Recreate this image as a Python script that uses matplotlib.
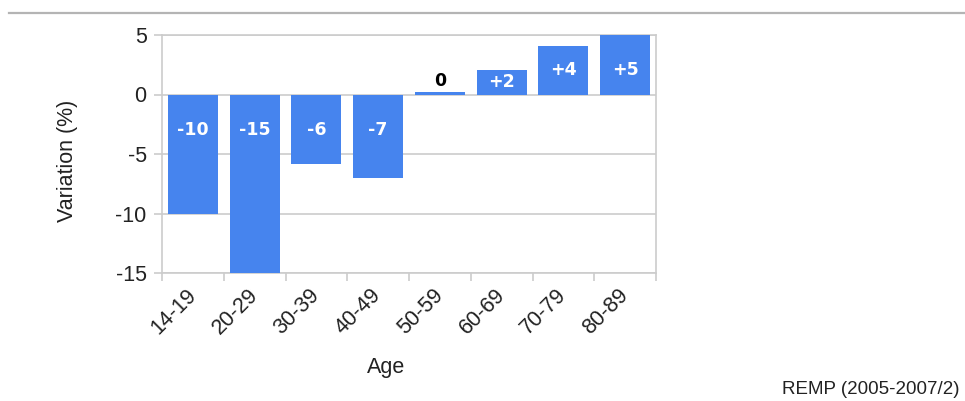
import numpy as np
import matplotlib
matplotlib.use("Agg")
import matplotlib.pyplot as plt
from matplotlib.lines import Line2D

# Age groups and variation of each group (%)
age_groups = ["14-19", "20-29", "30-39", "40-49", "50-59", "60-69", "70-79", "80-89"]
variation = [-10, -15, -5.8, -7, 0.2, 2.1, 4.1, 5]
y_ticks = [5, 0, -5, -10, -15]
source_note = "REMP (2005-2007/2)"

BAR_COLOR = "#4684ee"
GRID_COLOR = "#cccccc"
W, H = 965, 401

fig = plt.figure(figsize=(W / 100, H / 100), dpi=100)

# Thin rule across the top of the figure
fig.add_artist(Line2D([9 / W, 1.0], [1 - 13 / H, 1 - 13 / H],
                      color="#b4b4b4", linewidth=1.6))

ax = fig.add_axes([162 / W, 1 - 273 / H, (656 - 162) / W, (273 - 35) / H])
x = np.arange(len(age_groups))
ax.bar(x, variation, width=0.81, color=BAR_COLOR, zorder=3)

ax.set_xlim(-0.5, len(age_groups) - 0.5)
ax.set_ylim(min(y_ticks), max(y_ticks))
ax.set_yticks(y_ticks)
ax.set_yticklabels([str(t) for t in y_ticks])

# Category boundaries carry the tick marks, labels sit under each bar
ax.set_xticks(np.arange(-0.5, len(age_groups), 1.0))
ax.set_xticklabels([])
ax.set_xticks(x, minor=True)
ax.set_xticklabels(age_groups, minor=True, rotation=45, ha="right",
                   va="center", rotation_mode="anchor",
                   fontsize=15.5, family="Liberation Sans", color="#222222")
ax.tick_params(axis="x", which="minor", length=0, pad=14)
ax.tick_params(axis="x", which="major", length=6, color=GRID_COLOR, width=1.2)
ax.tick_params(axis="y", length=6, color=GRID_COLOR, width=1.2, pad=5,
               labelsize=15.5, labelcolor="#222222")
for lab in ax.get_yticklabels():
    lab.set_family("Liberation Sans")

ax.yaxis.grid(True, color=GRID_COLOR, linewidth=1.2, zorder=0)
ax.set_axisbelow(True)
for side in ["left", "right", "bottom", "top"]:
    ax.spines[side].set_color(GRID_COLOR)
    ax.spines[side].set_linewidth(1.2)

# Value labels on the bars
for xi, v in zip(x, variation):
    r = int(round(v))
    if r == 0:
        ax.text(xi, 1.1, "0", ha="center", va="center", fontsize=12.5,
                fontweight="bold", color="black", family="DejaVu Sans", zorder=4)
    elif v > 0:
        ax.text(xi, min(v / 2, 2.1), f"+{r}", ha="center", va="center",
                fontsize=12.5, fontweight="bold", color="white",
                family="DejaVu Sans", zorder=4)
    else:
        ax.text(xi, -3.0, f"{r}", ha="center", va="center", fontsize=12.5,
                fontweight="bold", color="white", family="DejaVu Sans", zorder=4)

fig.text(68 / W, 1 - 161 / H, "Variation (%)", rotation=90, ha="center",
         va="center", fontsize=15.5, family="Liberation Sans", color="#222222")
fig.text(386 / W, 1 - 367 / H, "Age", ha="center", va="center",
         fontsize=15.5, family="Liberation Sans", color="#222222")
fig.text(960 / W, 1 - 390 / H, source_note, ha="right", va="center",
         fontsize=13.5, family="Liberation Sans", color="#222222")

fig.savefig("out.png", dpi=100)
